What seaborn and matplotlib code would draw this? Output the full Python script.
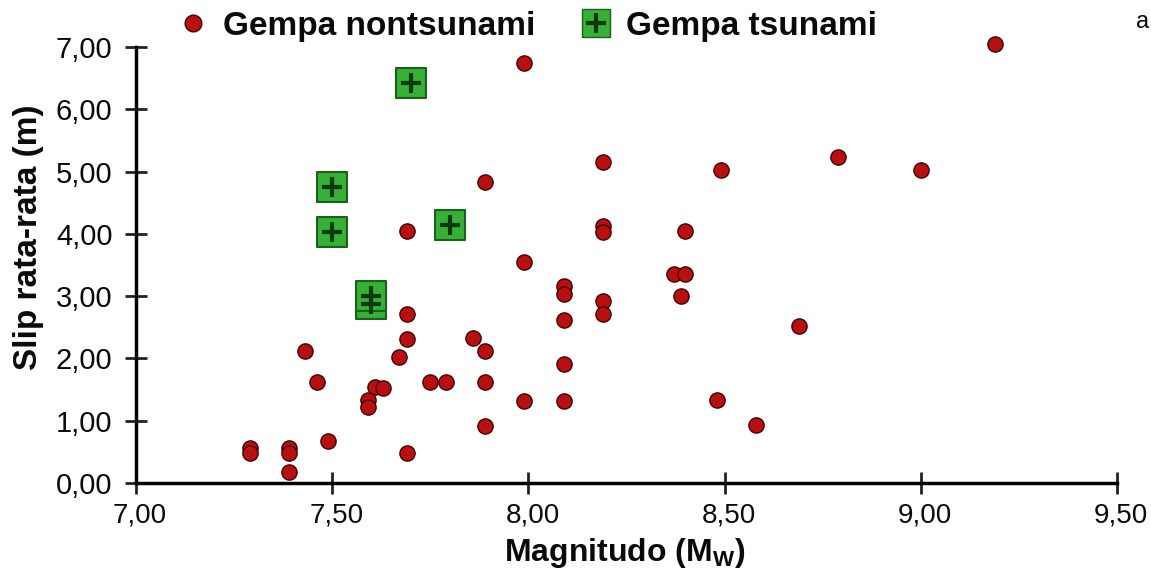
import numpy as np
import pandas as pd
import matplotlib
matplotlib.use("Agg")
import matplotlib.pyplot as plt
import matplotlib.transforms as mtransforms
import seaborn as sns
from matplotlib.lines import Line2D
from matplotlib.ticker import FuncFormatter

# ---------------- data ----------------
nontsunami_mag = [9.19, 7.99, 7.89, 7.69, 8.19, 8.19, 8.19, 7.99, 8.09, 8.09,
                  8.09, 8.09, 8.09, 7.99, 7.89, 8.37, 8.40, 8.39, 8.40, 8.19,
                  8.19, 8.49, 8.79, 9.00, 8.69, 8.48, 8.58, 7.69, 7.69, 7.67,
                  7.43, 7.46, 7.61, 7.63, 7.59, 7.59, 7.75, 7.79, 7.89, 7.86,
                  7.89, 7.49, 7.29, 7.29, 7.39, 7.39, 7.39, 7.69]
nontsunami_slip = [7.05, 6.75, 4.84, 4.04, 5.15, 4.12, 4.03, 3.55, 3.16, 3.03,
                   2.61, 1.91, 1.32, 1.32, 0.92, 3.35, 3.35, 3.01, 4.04, 2.92,
                   2.71, 5.03, 5.23, 5.03, 2.52, 1.33, 0.93, 2.71, 2.31, 2.03,
                   2.12, 1.62, 1.54, 1.53, 1.34, 1.22, 1.62, 1.62, 2.12, 2.32,
                   1.62, 0.68, 0.56, 0.48, 0.56, 0.48, 0.18, 0.48]
tsunami_mag = [7.70, 7.50, 7.50, 7.80, 7.60, 7.60]
tsunami_slip = [6.43, 4.76, 4.03, 4.15, 2.87, 3.00]

x_ticks = [7.0, 7.5, 8.0, 8.5, 9.0, 9.5]
y_ticks = [0, 1, 2, 3, 4, 5, 6, 7]
label_nontsunami = "Gempa nontsunami"
label_tsunami = "Gempa tsunami"
x_label = r"Magnitudo (M$_{\mathbf{W}}$)"
y_label = "Slip rata-rata (m)"

# ---------------- style ----------------
sns.set_theme(style="white")
plt.rcParams["font.family"] = ["Liberation Sans", "DejaVu Sans"]
plt.rcParams["mathtext.fontset"] = "custom"
plt.rcParams["mathtext.bf"] = "Liberation Sans:bold"
plt.rcParams["mathtext.rm"] = "Liberation Sans"
plt.rcParams["text.color"] = "#0a0a0a"
plt.rcParams["axes.labelcolor"] = "#0a0a0a"

red_face = "#b81010"
red_edge = "#440000"
green_face = "#36b036"
green_edge = "#1d5e1d"
cross_col = "#0c3a0c"

fig = plt.figure(figsize=(11.51, 5.71), dpi=100)
ax = fig.add_axes([136 / 1151, 1 - 483 / 571, (1117 - 136) / 1151, (483 - 47) / 571])

df_n = pd.DataFrame({"mag": nontsunami_mag, "slip": nontsunami_slip})
df_t = pd.DataFrame({"mag": tsunami_mag, "slip": tsunami_slip})

sns.scatterplot(data=df_n, x="mag", y="slip", ax=ax, marker="o", s=120,
                color=red_face, edgecolor=red_edge, linewidth=1.0,
                legend=False, clip_on=False, zorder=3)
sns.scatterplot(data=df_t, x="mag", y="slip", ax=ax, marker="s", s=440,
                color=green_face, edgecolor=green_edge, linewidth=1.5,
                legend=False, clip_on=False, zorder=4)
sns.scatterplot(data=df_t, x="mag", y="slip", ax=ax, marker="+", s=220,
                color=cross_col, linewidth=3.0,
                legend=False, clip_on=False, zorder=5)

ax.set_xlim(7.0, 9.5)
ax.set_ylim(0, 7.0)
ax.set_xticks(x_ticks)
ax.set_yticks(y_ticks)
fmt = FuncFormatter(lambda v, p: f"{v:.2f}".replace(".", ","))
ax.xaxis.set_major_formatter(fmt)
ax.yaxis.set_major_formatter(fmt)

for side in ["top", "right"]:
    ax.spines[side].set_visible(False)
for side in ["left", "bottom"]:
    ax.spines[side].set_color("black")
    ax.spines[side].set_linewidth(2.5)

ax.tick_params(axis="both", which="major", bottom=True, left=True,
               direction="inout", length=16, width=2,
               color="#222222", labelcolor="#0a0a0a")
ax.tick_params(axis="y", pad=9, labelsize=21)
ax.tick_params(axis="x", pad=6, labelsize=20)

# x tick labels sit slightly to the right of their ticks
shift = mtransforms.ScaledTranslation(4 / 100, 0, fig.dpi_scale_trans)
for lab in ax.get_xticklabels():
    lab.set_transform(lab.get_transform() + shift)

ax.set_xlabel(x_label, fontsize=23, fontweight="bold")
ax.set_ylabel(y_label, fontsize=24, fontweight="bold")
ax.xaxis.set_label_coords(0.498, -0.122)
ax.yaxis.set_label_coords(-0.094, 0.564)

# legend
h_n = Line2D([], [], marker="o", linestyle="none", markersize=12,
             markerfacecolor=red_face, markeredgecolor=red_edge)
h_sq = Line2D([], [], marker="s", linestyle="none", markersize=20,
              markerfacecolor=green_face, markeredgecolor=green_edge)
h_pl = Line2D([], [], marker="+", linestyle="none", markersize=14,
              markeredgewidth=3, color=cross_col)
fig.legend([h_n, (h_sq, h_pl)], [label_nontsunami, label_tsunami],
           loc="center left", bbox_to_anchor=(176 / 1151, 1 - 26 / 571),
           ncol=2, frameon=False, handlelength=1.0, handletextpad=0.4,
           columnspacing=1.32, borderpad=0, borderaxespad=0,
           prop={"weight": "bold", "size": 24})

fig.text(1136 / 1151, 1 - 22 / 571, "a", fontsize=17, ha="left", va="center")

fig.savefig("out.png", dpi=100, facecolor="white")
